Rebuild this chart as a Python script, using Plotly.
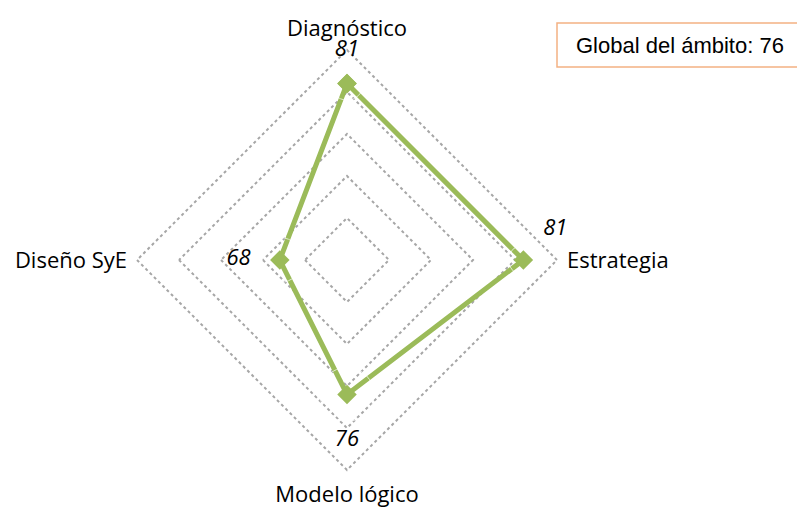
import plotly.graph_objects as go

# ---- data ----
categories = ["Diagnóstico", "Estrategia", "Modelo lógico", "Diseño SyE"]
values = [81, 81, 76, 68]
global_score = 76
r_min, r_max, r_step = 60, 85, 5

# ---- styles ----
green = "#9BBB59"
grid_gray = "#A6A6A6"
font_family = "'Open Sans', Calibri, Lato, sans-serif"
cat_font = dict(family=font_family, size=22, color="#000000")
lbl_font = dict(family=font_family, size=22, color="#000000", style="italic")
label_positions = ["top center", "top right", "bottom center", "middle left"]
label_offsets = [33, 30, 54, 45]  # invisible marker sizes used to push the labels outward

W, H = 797, 510
cx, cy, R = 347, 260, 210          # centre and outer-ring radius in pixels
pad = 0.25                          # extra range so the outer ring gridline is drawn
R_dom = R * (r_max + pad - r_min) / (r_max - r_min)

r_closed = values + values[:1]
t_closed = categories + categories[:1]

fig = go.Figure()
fig.add_trace(go.Scatterpolar(
    r=r_closed, theta=t_closed, mode="lines+markers",
    line=dict(color=green, width=5),
    marker=dict(symbol="diamond", size=15, color=green),
    cliponaxis=False, showlegend=False, hoverinfo="skip",
))
fig.add_trace(go.Scatterpolar(
    r=values, theta=categories, mode="markers+text",
    text=[str(v) for v in values], textposition=label_positions,
    textfont=lbl_font,
    marker=dict(size=label_offsets, color="rgba(0,0,0,0)"),
    cliponaxis=False, showlegend=False, hoverinfo="skip",
))

fig.update_layout(
    width=W, height=H,
    margin=dict(l=0, r=0, t=0, b=0),
    paper_bgcolor="white", plot_bgcolor="white",
    polar=dict(
        domain=dict(x=[(cx - R_dom) / W, (cx + R_dom) / W],
                    y=[1 - (cy + R_dom) / H, 1 - (cy - R_dom) / H]),
        gridshape="linear",
        bgcolor="rgba(0,0,0,0)",
        radialaxis=dict(
            range=[r_min, r_max + pad],
            tickvals=list(range(r_min + r_step, r_max + 1, r_step)),
            showticklabels=False, ticks="", showline=False,
            gridcolor=grid_gray, griddash="dot", gridwidth=1.5,
        ),
        angularaxis=dict(
            categoryorder="array", categoryarray=categories,
            rotation=90, direction="clockwise",
            showgrid=False, showline=False,
            ticks="outside", ticklen=3, tickcolor="rgba(0,0,0,0)",
            tickfont=cat_font,
        ),
    ),
    shapes=[dict(
        type="rect", xref="paper", yref="paper",
        x0=557 / W, x1=1.05, y0=1 - 67 / H, y1=1 - 23 / H,
        line=dict(color="#F4B183", width=1.5), fillcolor="white", layer="below",
    )],
    annotations=[dict(
        text=f"Global del ámbito: {global_score}",
        xref="paper", yref="paper", x=680 / W, y=1 - 45 / H,
        xanchor="center", yanchor="middle", showarrow=False,
        font=dict(family="'Liberation Sans Narrow', 'Liberation Sans', Arial, sans-serif", size=22, color="#000000"),
    )],
)

fig.write_html("out.html")
